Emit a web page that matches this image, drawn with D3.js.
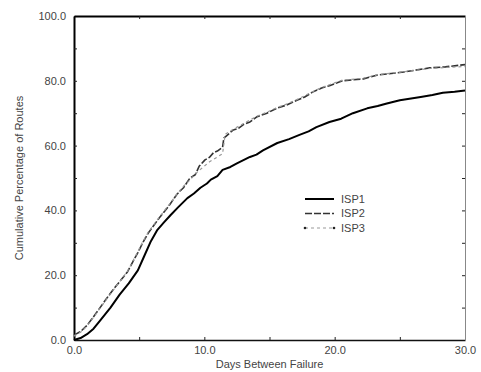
<!DOCTYPE html>
<html>
<head>
<meta charset="utf-8">
<script src="https://cdn.jsdelivr.net/npm/d3@7"></script>
<style>
  body { margin: 0; background: #fff; }
  svg { display: block; font-family: "Liberation Sans", Arial, sans-serif; }
</style>
</head>
<body>
<svg id="chart" width="481" height="372"></svg>
<script>
// days between failure vs cumulative percentage of routes
const isp1 = [
  [0, 0], [0.5, 0.6], [1, 1.8], [1.5, 3.5], [2, 6], [2.8, 10], [3.5, 14], [4.2, 17.5],
  [4.9, 21.5], [5.4, 26], [5.9, 30.5], [6.4, 34], [6.9, 36.3], [7.4, 38.5], [8, 41],
  [8.7, 43.8], [9.2, 45.2], [9.7, 47], [10.2, 48.3], [10.5, 49.5], [11, 50.6], [11.4, 52.5],
  [12, 53.4], [12.5, 54.5], [13.5, 56.5], [14, 57.2], [14.5, 58.5], [15.6, 60.8],
  [16.5, 62], [17.3, 63.3], [18, 64.4], [18.6, 65.7], [19.6, 67.3], [20.5, 68.3],
  [21.4, 70], [22.5, 71.5], [23.3, 72.2], [24, 73], [25, 74], [26.6, 75], [27.5, 75.6],
  [28.3, 76.3], [29.2, 76.6], [30, 77]
];
const isp2 = [
  [0, 1.5], [0.5, 2.6], [1, 4.5], [1.5, 7.2], [2, 10], [2.5, 12.8], [3, 15.5], [3.6, 18.5],
  [4.1, 21], [4.5, 24], [4.9, 27], [5.3, 30.2], [5.7, 33], [6.2, 35.8], [6.6, 38],
  [7.3, 41.5], [7.9, 45], [8.4, 47], [8.9, 50], [9.3, 51], [9.6, 53.6], [10.05, 55.6],
  [10.4, 56.4], [10.7, 57.8], [11, 58.3], [11.4, 59.5], [11.5, 62.3], [12.2, 64.8],
  [12.6, 65.3], [13, 66.5], [13.5, 67.3], [14, 68.8], [14.8, 70], [15.6, 71.6],
  [16.3, 72.5], [17.1, 74], [17.7, 75], [18.3, 76.5], [19, 77.8], [19.6, 78.5],
  [20.6, 80], [22.2, 80.6], [23.3, 81.8], [25.3, 82.7], [27.3, 84], [28.5, 84.3], [30, 85]
];
const isp3 = [
  [0, 1.2], [0.5, 2.4], [1, 4.3], [1.5, 7], [2, 9.8], [2.5, 12.6], [3, 15.3], [3.6, 18.5],
  [4.1, 21.2], [4.5, 24.2], [4.9, 27.3], [5.3, 30.5], [5.7, 33.3], [6.2, 36], [6.6, 38.2],
  [7.3, 41.8], [7.9, 45], [8.4, 47.5], [8.9, 49.4], [9.5, 52], [10.4, 55], [11, 56.5],
  [11.4, 57.5], [11.6, 63.5], [12.2, 65], [13, 66.8], [14, 69], [14.8, 70.3],
  [15.6, 71.8], [16.3, 72.8], [17.1, 74.2], [18.3, 76.6], [19, 77.9], [19.6, 78.8],
  [20.6, 80.2], [22.2, 80.8], [23.3, 81.9], [25.3, 82.8], [27.3, 83.8], [28.5, 84.1], [30, 84.4]
];
const seriesNames = ["ISP1", "ISP2", "ISP3"];
const xTicks = [0, 5, 10, 15, 20, 25, 30];
const yTicks = [0, 10, 20, 30, 40, 50, 60, 70, 80, 90, 100];

const margin = { top: 16, right: 16, bottom: 32, left: 74 };
const width = 481, height = 372;
const svg = d3.select("#chart");

const x = d3.scaleLinear().domain([0, 30]).range([margin.left, width - margin.right]);
const y = d3.scaleLinear().domain([0, 100]).range([height - margin.bottom, margin.top]);

const fmt = d3.format(".1f");
const labelX = (d) => (d % 10 === 0 ? fmt(d) : "");
const labelY = (d) => (d % 20 === 0 ? fmt(d) : "");

// bottom axis
const gx = svg.append("g")
  .attr("transform", `translate(0, ${y(0)})`)
  .call(d3.axisBottom(x).tickValues(xTicks).tickSizeInner(-3).tickSizeOuter(0)
    .tickPadding(6).tickFormat(labelX));
gx.select(".domain").attr("stroke", "#111").attr("stroke-width", 1.5);

// left axis
const gy = svg.append("g")
  .attr("transform", `translate(${x(0)}, 0)`)
  .call(d3.axisLeft(y).tickValues(yTicks).tickSizeInner(-3).tickSizeOuter(0)
    .tickPadding(8).tickFormat(labelY));
gy.select(".domain").attr("stroke", "#000").attr("stroke-width", 2);

// top axis
const gt = svg.append("g")
  .attr("transform", `translate(0, ${y(100)})`)
  .call(d3.axisTop(x).tickValues(xTicks.slice(1, -1)).tickSizeInner(-3).tickSizeOuter(0).tickFormat(""));
gt.select(".domain").attr("stroke", "#000").attr("stroke-width", 2);

// right axis
const gr = svg.append("g")
  .attr("transform", `translate(${x(30)}, 0)`)
  .call(d3.axisRight(y).tickValues(yTicks.slice(1, -1)).tickSizeInner(-3).tickSizeOuter(0).tickFormat(""));
gr.select(".domain").attr("stroke", "#888").attr("stroke-width", 1);

svg.selectAll(".tick line").attr("stroke", "#222");
svg.selectAll(".tick text")
  .attr("font-size", 11)
  .attr("fill", "#444")
  .attr("font-family", "Liberation Sans, Arial, sans-serif");

// axis titles
svg.append("text")
  .attr("x", (x(0) + x(30)) / 2)
  .attr("y", 368)
  .attr("text-anchor", "middle")
  .attr("font-size", 11)
  .attr("fill", "#444")
  .text("Days Between Failure");

svg.append("text")
  .attr("transform", `translate(23, ${(y(0) + y(100)) / 2}) rotate(-90)`)
  .attr("text-anchor", "middle")
  .attr("font-size", 11)
  .attr("fill", "#444")
  .text("Cumulative Percentage of Routes");

// lines
const line = d3.line().x((d) => x(d[0])).y((d) => y(d[1]));
const styles = [
  { data: isp1, stroke: "#000", width: 2, dash: null },
  { data: isp2, stroke: "#333", width: 1.6, dash: "7,2" },
  { data: isp3, stroke: "#999", width: 1.2, dash: "3,3" }
];

svg.append("g").selectAll("path")
  .data(styles)
  .join("path")
  .attr("fill", "none")
  .attr("stroke", (s) => s.stroke)
  .attr("stroke-width", (s) => s.width)
  .attr("stroke-dasharray", (s) => s.dash)
  .attr("stroke-linejoin", "round")
  .attr("d", (s) => line(s.data));

// legend
const legend = svg.append("g").attr("transform", "translate(305, 199)");
const rows = legend.selectAll("g")
  .data(styles)
  .join("g")
  .attr("transform", (s, i) => `translate(0, ${i * 14.5})`);
rows.append("line")
  .attr("x1", 0).attr("x2", 29)
  .attr("stroke", (s) => s.stroke)
  .attr("stroke-width", (s) => s.width)
  .attr("stroke-dasharray", (s) => s.dash);
rows.filter((s, i) => i === 2).selectAll("circle")
  .data([0, 29])
  .join("circle")
  .attr("cx", (d) => d).attr("cy", 0).attr("r", 1.3).attr("fill", "#222");
rows.append("text")
  .attr("x", 36)
  .attr("dy", "0.35em")
  .attr("font-size", 11)
  .attr("fill", "#444")
  .text((s, i) => seriesNames[i]);
</script>
</body>
</html>
